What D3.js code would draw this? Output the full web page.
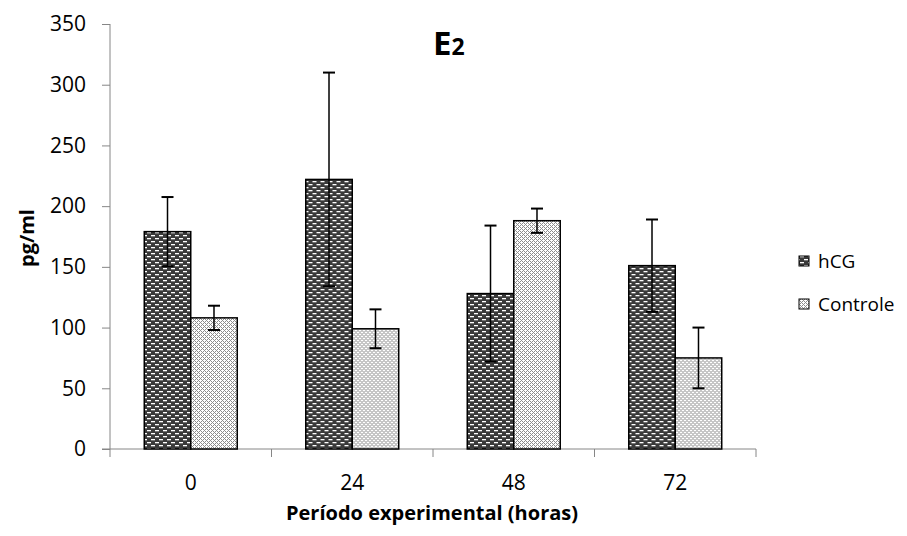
<!DOCTYPE html>
<html>
<head>
<meta charset="utf-8">
<script src="https://d3js.org/d3.v7.min.js"></script>
<style>
  body { margin: 0; background: #fff; }
  text { font-family: "Open Sans", Lato, Arial, sans-serif; fill: #000; }
</style>
</head>
<body>
<svg id="main" width="907" height="536"></svg>
<script>
// data
var categories = ["0", "24", "48", "72"];
var seriesNames = ["hCG", "Controle"];
var hcg = [179, 222, 128, 151];
var hcgErr = [28.5, 88, 56, 38];
var controle = [108, 99, 188, 75];
var controleErr = [10, 16, 10, 25];
var yTicks = [0, 50, 100, 150, 200, 250, 300, 350];

var svg = d3.select("#main");
var plotLeft = 110, plotRight = 756, plotTop = 24, plotBottom = 449;
var axisColor = "#868686";

// patterns
var defs = svg.append("defs");
var p1 = defs.append("pattern").attr("id", "patHcg")
  .attr("patternUnits", "userSpaceOnUse").attr("width", 8).attr("height", 6);
p1.append("rect").attr("width", 8).attr("height", 6).attr("fill", "#3a3a3a");
p1.append("rect").attr("x", 1).attr("y", 1).attr("width", 4).attr("height", 1.3).attr("fill", "#fff");
p1.append("rect").attr("x", 5).attr("y", 4).attr("width", 4).attr("height", 1.3).attr("fill", "#fff");
p1.append("rect").attr("x", -3).attr("y", 4).attr("width", 4).attr("height", 1.3).attr("fill", "#fff");

var p2 = defs.append("pattern").attr("id", "patCtl")
  .attr("patternUnits", "userSpaceOnUse").attr("width", 4).attr("height", 4);
p2.append("rect").attr("width", 4).attr("height", 4).attr("fill", "#fff");
[[0,0],[1,1],[2,2],[3,3],[3,1],[1,3]].forEach(function(c) {
  p2.append("rect").attr("x", c[0]).attr("y", c[1]).attr("width", 1).attr("height", 1).attr("fill", "#8c8c8c");
});

var fills = ["url(#patHcg)", "url(#patCtl)"];

// scales
var y = d3.scaleLinear().domain([0, 350]).range([plotBottom, plotTop]);
var x0 = d3.scaleBand().domain(categories).range([plotLeft, plotRight]).padding(0);
var x1 = d3.scaleBand().domain(seriesNames).range([0, x0.bandwidth()])
  .paddingInner(0).paddingOuter(0.737);

// y axis
var yAxis = svg.append("g").attr("transform", "translate(" + plotLeft + ",0)")
  .call(d3.axisLeft(y).tickValues(yTicks).tickSize(8).tickPadding(16));
yAxis.selectAll("line").attr("stroke", axisColor);
yAxis.select(".domain").attr("stroke", axisColor).attr("d", "M0," + plotTop + "V" + plotBottom);
yAxis.selectAll("text").style("font-size", "21px").style("font-family", "\"Open Sans\"");

// x axis
var xAxis = svg.append("g").attr("transform", "translate(0," + plotBottom + ")")
  .call(d3.axisBottom(x0).tickSize(0).tickPadding(26));
xAxis.select(".domain").attr("stroke", axisColor).attr("d", "M" + (plotLeft - 8) + ",0H" + plotRight);
xAxis.selectAll("text").style("font-size", "21px").style("font-family", "\"Open Sans\"");
var bounds = categories.map(function(c) { return x0(c); }).concat([plotRight]);
xAxis.selectAll(".bound").data(bounds).enter().append("line")
  .attr("x1", function(d) { return d; }).attr("x2", function(d) { return d; })
  .attr("y1", 0).attr("y2", 8).attr("stroke", axisColor);

// bars
var rows = categories.map(function(c, i) {
  return [
    { cat: c, s: "hCG", v: hcg[i], e: hcgErr[i], k: 0 },
    { cat: c, s: "Controle", v: controle[i], e: controleErr[i], k: 1 }
  ];
});
var groups = svg.append("g").selectAll("g").data(rows).enter().append("g")
  .attr("transform", function(d) { return "translate(" + x0(d[0].cat) + ",0)"; });

groups.selectAll("rect").data(function(d) { return d; }).enter().append("rect")
  .attr("x", function(d) { return x1(d.s); })
  .attr("y", function(d) { return y(d.v); })
  .attr("width", x1.bandwidth())
  .attr("height", function(d) { return y(0) - y(d.v); })
  .attr("fill", function(d) { return fills[d.k]; })
  .attr("stroke", "#000").attr("stroke-width", 1.5);

// error bars
var eb = groups.selectAll(".err").data(function(d) { return d; }).enter().append("g")
  .attr("transform", function(d) { return "translate(" + (x1(d.s) + x1.bandwidth() / 2) + ",0)"; });
eb.append("line").attr("x1", 0).attr("x2", 0)
  .attr("y1", function(d) { return y(d.v + d.e); })
  .attr("y2", function(d) { return y(d.v - d.e); })
  .attr("stroke", "#000").attr("stroke-width", 1.5);
eb.selectAll(".cap").data(function(d) { return [d.v + d.e, d.v - d.e]; }).enter().append("line")
  .attr("x1", -6).attr("x2", 6)
  .attr("y1", function(d) { return y(d); }).attr("y2", function(d) { return y(d); })
  .attr("stroke", "#000").attr("stroke-width", 2);

// title
var title = svg.append("text").attr("x", 433).attr("y", 55)
  .style("font-size", "33px").style("font-weight", "bold");
title.append("tspan").text("E");
title.append("tspan").style("font-size", "23px").text("2");

// axis titles
svg.append("text").attr("transform", "translate(34,238) rotate(-90)")
  .attr("text-anchor", "middle").style("font-size", "20px").style("font-weight", "bold")
  .text("pg/ml");
svg.append("text").attr("x", 432).attr("y", 520).attr("text-anchor", "middle")
  .style("font-size", "20px").style("font-weight", "bold")
  .text("Período experimental (horas)");

// legend
var legend = svg.append("g").selectAll("g").data(seriesNames).enter().append("g")
  .attr("transform", function(d, i) { return "translate(799," + (261 + i * 43) + ")"; });
legend.append("rect").attr("x", 0).attr("y", -5).attr("width", 10).attr("height", 10)
  .attr("fill", function(d, i) { return fills[i]; })
  .attr("stroke", "#000").attr("stroke-width", 1);
legend.append("text").attr("x", 19).attr("y", 7).style("font-size", "19px")
  .text(function(d) { return d; });
</script>
</body>
</html>
